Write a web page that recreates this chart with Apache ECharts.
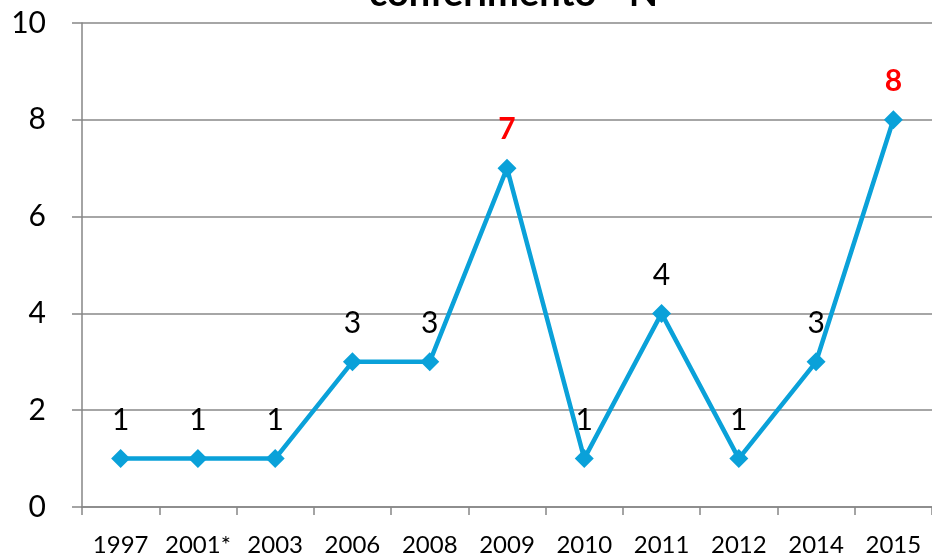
<!DOCTYPE html>
<html>
<head>
<meta charset="utf-8">
<script src="https://cdn.jsdelivr.net/npm/echarts@6/dist/echarts.min.js"></script>
<style>
  html, body { margin: 0; padding: 0; background: #fff; }
  #chart { width: 932px; height: 557px; }
</style>
</head>
<body>
<div id="chart"></div>
<script>
// dati del grafico
const years = ["1997", "2001*", "2003", "2006", "2008", "2009", "2010", "2011", "2012", "2014", "2015"];
const counts = [1, 1, 1, 3, 3, 7, 1, 4, 1, 3, 8];
const highlighted = ["2009", "2015"]; // etichette in rosso
const yTicks = [0, 2, 4, 6, 8, 10];
const titleText = "conferimento - N";

const font = "Lato, 'Open Sans', sans-serif";

// etichette rosse per i picchi
let seriesData = counts.map((v, i) => {
  let item = { value: v };
  if (highlighted.includes(years[i])) {
    item.label = { color: "#ff0000", fontWeight: "bold" };
  }
  return item;
});

let myChart = echarts.init(document.getElementById("chart"));
let option = {
  animation: false,
  title: {
    text: titleText,
    left: 364,
    top: -30,
    textStyle: { fontFamily: font, fontSize: 38, fontWeight: "bold", color: "#000" },
  },
  grid: { left: 82, top: 23, width: 853, bottom: 49, containLabel: false },
  xAxis: {
    type: "category",
    data: years,
    boundaryGap: true,
    axisLine: { lineStyle: { color: "#868686", width: 1.5 } },
    axisTick: { show: true, length: 8, lineStyle: { color: "#868686", width: 1.5 } },
    axisLabel: { fontFamily: font, fontSize: 24, color: "#000", margin: 26, interval: 0 },
  },
  yAxis: {
    type: "value",
    min: yTicks[0],
    max: yTicks[yTicks.length - 1],
    interval: 2,
    axisLine: { show: true, lineStyle: { color: "#868686", width: 1.5 } },
    axisTick: { show: true, length: 10, lineStyle: { color: "#868686", width: 1.5 } },
    axisLabel: { fontFamily: font, fontSize: 30, color: "#000", margin: 36 },
    splitLine: { show: true, lineStyle: { color: "#898989", width: 1.5 } },
  },
  series: [
    {
      type: "line",
      data: seriesData,
      symbol: "diamond",
      symbolSize: 19,
      lineStyle: { color: "#0aa1d9", width: 4.5 },
      itemStyle: { color: "#0aa1d9" },
      label: {
        show: true,
        position: "top",
        distance: 14,
        fontFamily: font,
        fontSize: 30,
        color: "#000",
      },
    },
  ],
};
myChart.setOption(option);
</script>
</body>
</html>
